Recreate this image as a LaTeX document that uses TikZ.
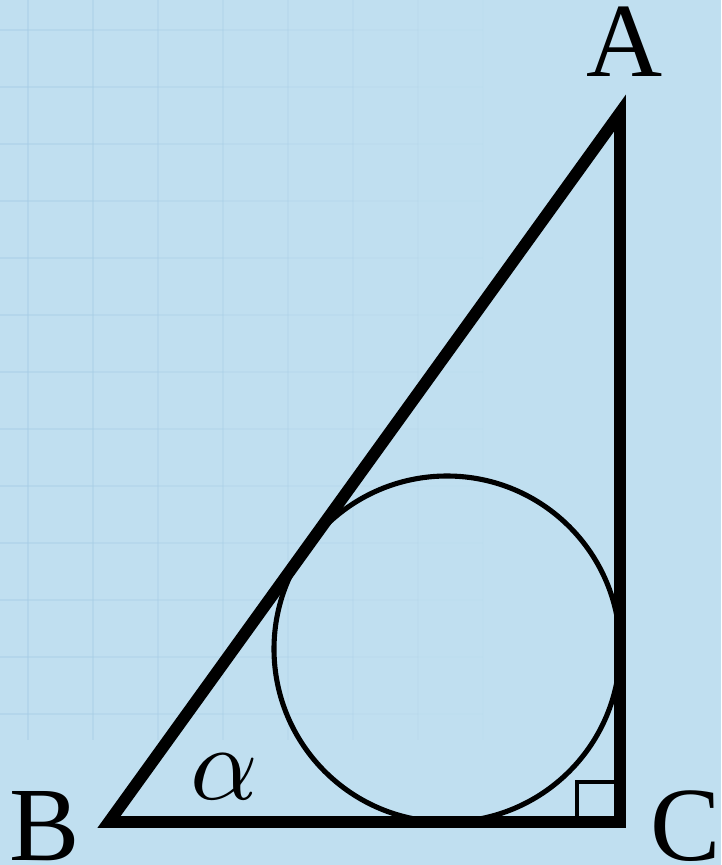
\documentclass[tikz,border=0pt]{standalone}
\usepackage{fontspec}
\usepackage{unicode-math}
\setmainfont{Liberation Serif}
\setmathfont{Latin Modern Math}
\begin{document}
\begin{tikzpicture}[x=0.02cm, y=-0.02cm, line join=miter]
  \definecolor{paper}{HTML}{C0DFF0}
  \definecolor{gridc}{HTML}{A6CDE5}
  \tikzset{
    side/.style={line width=6.8pt},
    incirc/.style={line width=2.9pt},
    rightmark/.style={line width=2.2pt},
    vlabel/.style={anchor=base, inner sep=0pt, font=\fontsize{60}{60}\selectfont},
    gridline/.style={gridc, line width=1.6pt}
  }
  % background
  \fill[paper] (0,0) rectangle (721,865);
  \useasboundingbox (0,0) rectangle (721,865);
  % faint grid, fading to the right
  \begin{scope}
    \clip (0,0) rectangle (721,740);
    \foreach \i in {0,...,7} {
      \pgfmathsetmacro{\op}{0.45*(1-\i/8)}
      \draw[gridline, opacity=\op] ({28+65*\i},0) -- ({28+65*\i},740);
      \foreach \j in {0,...,12}
        \draw[gridline, opacity=\op] ({65*\i-37},{30+57*\j}) -- ({65*\i+28},{30+57*\j});
    }
  \end{scope}
  % triangle
  \coordinate (A) at (620,113);
  \coordinate (B) at (109,822);
  \coordinate (C) at (620,822);
  \draw[side] (A) -- (B) -- (C) -- cycle;
  % incircle
  \coordinate (O) at (447,649);
  \draw[incirc] (O) circle[radius=173];
  % right angle at C
  \draw[rightmark] (C) ++(-43,0) rectangle ++(43,-40);
  % labels
  \node[vlabel] (lA) at (625,77) {A};
  \node[vlabel] (lB) at (45,860) {B};
  \node[vlabel] (lC) at (686,860) {C};
  \node[vlabel] (alpha) at (224,799) {$\alpha$};
\end{tikzpicture}
\end{document}
